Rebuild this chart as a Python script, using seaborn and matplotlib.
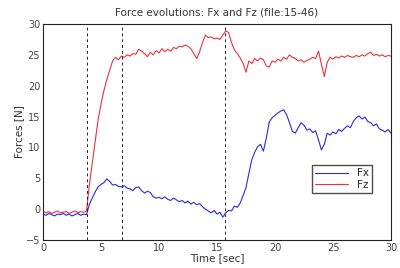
import numpy as np
import pandas as pd
import matplotlib.pyplot as plt
import seaborn as sns

# time axis (sec), 0.25 s steps
time = np.arange(0, 30.01, 0.25)

fx = [-0.8, -1.0, -0.7, -0.9, -1.1, -0.8, -0.9, -0.7, -1.0, -0.8, -1.1, -0.9, -0.7, -1.0, -0.8, -0.9,
      0.8, 1.8, 2.8, 3.6, 4.0, 4.3, 4.9, 4.5, 3.9, 4.0, 3.7, 3.6,
      3.8, 3.4, 3.3, 3.0, 3.5, 3.6, 3.0, 2.6, 2.9, 2.7, 2.0, 1.8,
      1.9, 1.7, 2.0, 1.6, 1.4, 1.8, 1.5, 1.2, 1.4, 1.0, 1.3, 0.8,
      1.1, 0.7, 0.9, 0.4, 0.0, -0.3, -0.6, -0.2, -0.8, -0.5, -1.3, -0.6,
      -0.2, -0.3, 0.5, 0.3, 1.0, 2.2, 3.5, 5.8, 8.0, 9.2, 10.1, 10.5,
      9.4, 11.5, 14.1, 14.8, 15.2, 15.6, 15.9, 16.1, 15.3, 14.0, 12.6, 12.3,
      13.2, 14.0, 13.6, 12.8, 13.0, 12.4, 12.7, 11.2, 9.6, 10.5, 12.3, 12.0,
      12.5, 12.2, 12.9, 12.6, 13.1, 13.5, 13.2, 14.2, 14.8, 15.1, 14.6, 14.9,
      14.2, 14.0, 13.5, 13.8, 13.0, 12.8, 12.5, 12.9, 12.3]

fz = [-0.3, -0.6, -0.4, -0.7, -0.5, -0.3, -0.6, -0.5, -0.4, -0.7, -0.5, -0.3, -0.6, -0.4, -0.5, -0.3,
      4.0, 7.5, 11.0, 14.5, 17.0, 19.2, 21.0, 22.5, 24.0, 24.6, 24.2, 24.8,
      24.6, 25.0, 24.8, 25.2, 25.1, 25.9, 25.6, 25.2, 24.7, 25.4, 25.0, 25.7,
      25.3, 26.0, 25.5, 25.9, 25.6, 26.2, 26.0, 26.4, 26.3, 26.6, 26.4, 26.0,
      25.2, 24.4, 25.5, 27.0, 28.2, 27.8, 27.9, 27.6, 27.7, 27.5, 28.2, 28.9,
      28.6, 27.0, 25.8, 25.2, 24.5, 23.6, 22.2, 24.0, 23.6, 24.4, 24.0, 24.5,
      24.2, 23.2, 23.0, 24.0, 23.8, 24.3, 24.0, 24.6, 24.3, 25.0, 24.6, 24.4,
      24.0, 24.2, 23.8, 24.1, 24.3, 24.6, 24.4, 25.6, 23.5, 21.5, 23.8, 24.6,
      24.3, 24.7, 24.5, 24.8, 24.6, 24.9, 24.7, 24.6, 24.9, 24.7, 25.0, 24.8,
      25.2, 25.4, 24.9, 25.1, 24.8, 25.0, 24.7, 24.9, 24.8]

# event markers (sec)
events = [3.8, 6.8, 15.7]

df = pd.DataFrame({'time': np.concatenate([time, time]),
                   'force': fx + fz,
                   'comp': ['Fx'] * len(time) + ['Fz'] * len(time)})

sns.set_style('white')
plt.rcParams['xtick.direction'] = 'in'
plt.rcParams['ytick.direction'] = 'in'

fig = plt.figure(figsize=(4, 2.68), dpi=100)
ax = fig.add_axes([0.1075, 0.1045, 0.87, 0.806])

sns.lineplot(data=df, x='time', y='force', hue='comp', ax=ax,
             palette={'Fx': '#2a2ae6', 'Fz': '#ec3040'}, linewidth=0.8)

for t in events:
    ax.axvline(t, color='#222222', linestyle=(0, (3, 3)), linewidth=0.7)

ax.set_xlim(0, 30)
ax.set_ylim(-5, 30)
ax.set_xticks(range(0, 31, 5))
ax.set_yticks(range(-5, 31, 5))
ax.tick_params(labelsize=7, colors='#444444', length=2.5, width=0.6, pad=2)
ax.set_xlabel('Time [sec]', fontsize=7.5, color='#333333', labelpad=0)
ax.set_ylabel('Forces [N]', fontsize=7.5, color='#333333', labelpad=1)
ax.set_title('Force evolutions: Fx and Fz (file:15-46)', fontsize=7.5, color='#333333', pad=6)
for s in ax.spines.values():
    s.set_color('#222222')
    s.set_linewidth(0.8)

ax.legend(title=None, loc='lower right', bbox_to_anchor=(0.96, 0.194),
          fontsize=7.5, frameon=True, fancybox=False, edgecolor='#222222',
          handlelength=3.2, borderpad=0.3, labelspacing=0.15)

fig.savefig('out.png', dpi=100)
